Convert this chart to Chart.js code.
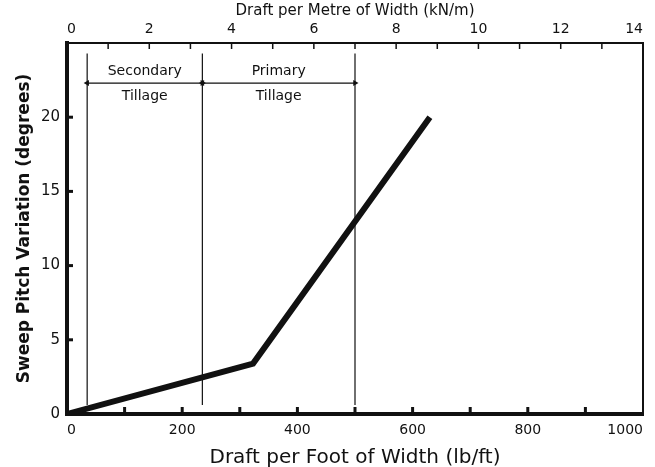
<!DOCTYPE html>
<html>
<head>
<meta charset="utf-8">
<script src="https://cdn.jsdelivr.net/npm/chart.js@4.4.1/dist/chart.umd.min.js"></script>
<style>
  html, body { margin: 0; padding: 0; background: #fff; }
  canvas { display: block; }
</style>
</head>
<body>
<canvas id="grafico" width="655" height="467"></canvas>
<script>
// Dados
const draftLbFt = [0, 323, 630];
const pitchDeg = [0, 3.4, 20];

// Limites entre preparo secundário e primário (lb/ft)
const boundaryLbFt = [35, 235, 500];
const boundaryY = [0.6, 24.3];
const arrowY = 22.3;

const regionNames = ['Secondary', 'Primary'];
const regionSub = 'Tillage';
const regionNameY = 23.1;
const regionSubY = 21.4;

// Eixos
const xRange = [0, 1000];
const xStep = 100;
const x2Range = [0, 14];
const x2Step = 1;
const yRange = [0, 25];
const yStep = 5;

const FONT = 'DejaVu Sans';
const INK = '#111';

// Linhas verticais com quebras entre elas
const boundaryData = boundaryLbFt.flatMap(x => [
    { x: x, y: boundaryY[0] },
    { x: x, y: boundaryY[1] },
    { x: x, y: null },
]);

// Setas horizontais: um segmento por região
const arrowData = [];
const arrowRot = [];
for (let i = 0; i < boundaryLbFt.length - 1; i++) {
    arrowData.push({ x: boundaryLbFt[i], y: arrowY }, { x: boundaryLbFt[i + 1], y: arrowY }, { x: boundaryLbFt[i + 1], y: null });
    arrowRot.push(-90, 90, 0);
}

// Rótulos das regiões
const textLabels = [];
regionNames.forEach((nome, i) => {
    const cx = (boundaryLbFt[i] + boundaryLbFt[i + 1]) / 2;
    textLabels.push({ text: nome, x: cx, y: regionNameY });
    textLabels.push({ text: regionSub, x: cx, y: regionSubY });
});

// Marcas de escala para dentro da área do gráfico
const innerTicks = {
    id: 'innerTicks',
    afterDatasetsDraw(chart) {
        const { ctx, chartArea, scales } = chart;
        ctx.save();
        ctx.strokeStyle = INK;
        const desenha = (scale, larg, comp, lado) => {
            scale.ticks.forEach(t => {
                if (t.value <= scale.min || t.value >= scale.max) return;
                const p = scale.getPixelForValue(t.value);
                ctx.lineWidth = larg;
                ctx.beginPath();
                if (lado === 'bottom') { ctx.moveTo(p, chartArea.bottom); ctx.lineTo(p, chartArea.bottom - comp); }
                if (lado === 'top') { ctx.moveTo(p, chartArea.top); ctx.lineTo(p, chartArea.top + comp); }
                if (lado === 'left') { ctx.moveTo(chartArea.left, p); ctx.lineTo(chartArea.left + comp, p); }
                ctx.stroke();
            });
        };
        desenha(scales.x, 3, 7, 'bottom');
        desenha(scales.x2, 1.5, 6, 'top');
        desenha(scales.y, 3, 6, 'left');
        ctx.restore();
    }
};

const regionText = {
    id: 'regionText',
    afterDatasetsDraw(chart) {
        const { ctx, scales } = chart;
        ctx.save();
        ctx.fillStyle = INK;
        ctx.font = '14px "' + FONT + '"';
        ctx.textAlign = 'center';
        ctx.textBaseline = 'middle';
        textLabels.forEach(l => {
            ctx.fillText(l.text, scales.x.getPixelForValue(l.x), scales.y.getPixelForValue(l.y));
        });
        ctx.restore();
    }
};

new Chart(document.getElementById('grafico'), {
    type: 'line',
    data: {
        datasets: [
            {
                data: draftLbFt.map((x, i) => ({ x: x, y: pitchDeg[i] })),
                borderColor: INK,
                borderWidth: 6,
                pointRadius: 0,
                tension: 0,
            },
            {
                data: boundaryData,
                borderColor: INK,
                borderWidth: 1.2,
                pointRadius: 0,
                spanGaps: false,
            },
            {
                data: arrowData,
                borderColor: INK,
                borderWidth: 1.2,
                pointStyle: 'triangle',
                pointRadius: 3.5,
                pointRotation: arrowRot,
                pointBackgroundColor: INK,
                pointBorderWidth: 0,
                spanGaps: false,
            },
        ]
    },
    options: {
        responsive: false,
        animation: false,
        layout: { padding: 0 },
        plugins: {
            legend: { display: false },
            tooltip: { enabled: false },
        },
        scales: {
            x: {
                type: 'linear',
                position: 'bottom',
                min: xRange[0],
                max: xRange[1],
                afterFit: s => { s.height = 53; },
                grid: { display: false, drawTicks: false },
                border: { display: true, color: INK, width: 4 },
                ticks: {
                    stepSize: xStep,
                    align: 'inner',
                    padding: 8,
                    color: INK,
                    font: { family: FONT, size: 14 },
                    maxRotation: 0,
                    autoSkip: false,
                    callback: v => (v % 200 === 0 ? v : ''),
                },
                title: {
                    display: true,
                    text: 'Draft per Foot of Width (lb/ft)',
                    color: INK,
                    font: { family: FONT, size: 20 },
                    padding: { top: 0, bottom: -3 },
                },
            },
            x2: {
                type: 'linear',
                position: 'top',
                min: x2Range[0],
                max: x2Range[1],
                afterFit: s => { s.height = 43; },
                grid: { display: false, drawTicks: false },
                border: { display: true, color: INK, width: 2 },
                ticks: {
                    stepSize: x2Step,
                    align: 'inner',
                    padding: 5,
                    color: INK,
                    font: { family: FONT, size: 14 },
                    maxRotation: 0,
                    autoSkip: false,
                    callback: v => (v % 2 === 0 ? v : ''),
                },
                title: {
                    display: true,
                    text: 'Draft per Metre of Width (kN/m)',
                    color: INK,
                    font: { family: FONT, size: 15 },
                    padding: { top: 2, bottom: 0 },
                },
            },
            y: {
                type: 'linear',
                position: 'left',
                min: yRange[0],
                max: yRange[1],
                afterFit: s => { s.width = 67; },
                grid: { display: false, drawTicks: false },
                border: { display: true, color: INK, width: 4 },
                ticks: {
                    stepSize: yStep,
                    padding: 7,
                    color: INK,
                    font: { family: FONT, size: 15 },
                    callback: v => (v === yRange[1] ? '' : v),
                },
                title: {
                    display: true,
                    text: 'Sweep Pitch Variation (degrees)',
                    color: INK,
                    font: { family: FONT, size: 17, weight: 'bold' },
                    padding: { top: 14, bottom: 0 },
                },
            },
            y2: {
                type: 'linear',
                position: 'right',
                min: yRange[0],
                max: yRange[1],
                afterFit: s => { s.width = 12; },
                grid: { display: false, drawTicks: false },
                border: { display: true, color: INK, width: 2 },
                ticks: { display: false },
            },
        }
    },
    plugins: [innerTicks, regionText]
});
</script>
</body>
</html>
